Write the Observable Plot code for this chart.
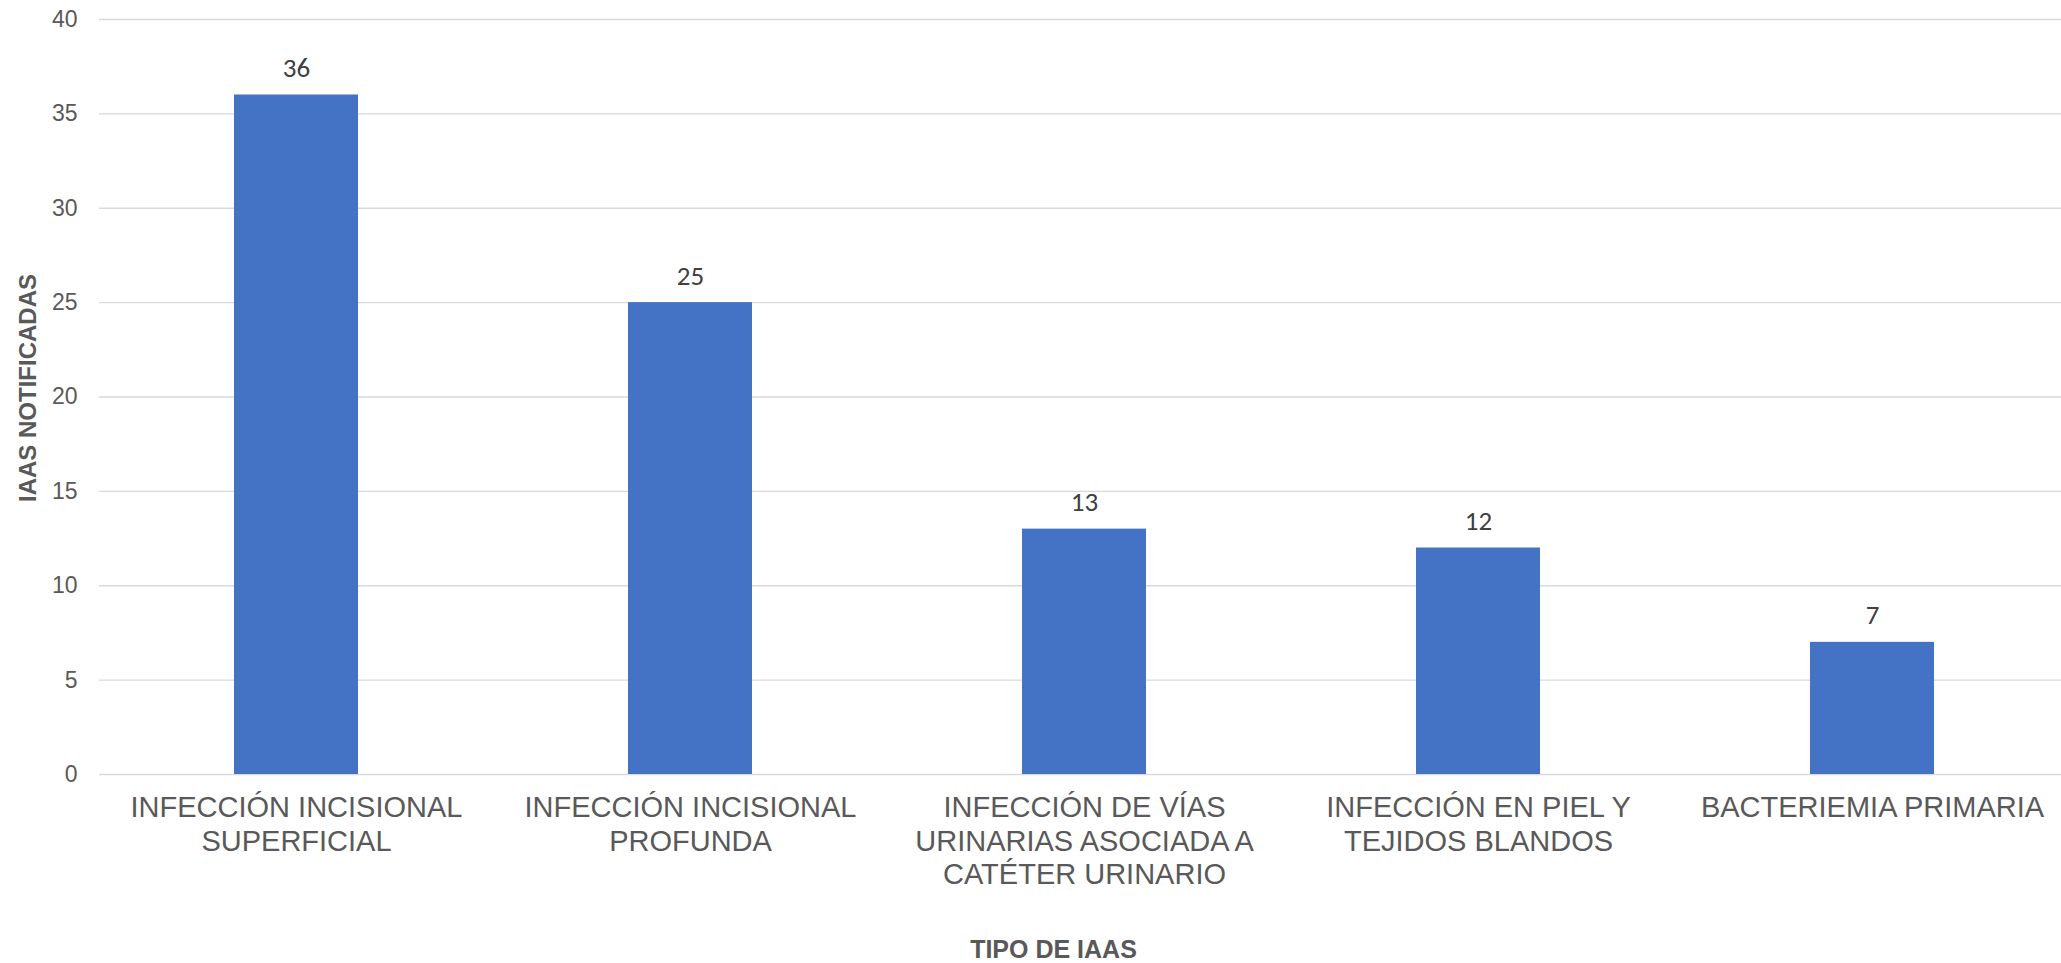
<!DOCTYPE html>
<html>
<head>
<meta charset="utf-8">
<script src="https://cdn.jsdelivr.net/npm/d3@7"></script>
<script src="https://cdn.jsdelivr.net/npm/@observablehq/plot@0.6"></script>
<style>
  html, body { margin: 0; padding: 0; background: #fff; }
  #chart svg { display: block; }
</style>
</head>
<body>
<div id="chart"></div>
<script>
const categories = [
  "INFECCIÓN INCISIONAL\nSUPERFICIAL",
  "INFECCIÓN INCISIONAL\nPROFUNDA",
  "INFECCIÓN DE VÍAS\nURINARIAS ASOCIADA A\nCATÉTER URINARIO",
  "INFECCIÓN EN PIEL Y\nTEJIDOS BLANDOS",
  "BACTERIEMIA PRIMARIA"
];
const values = [36, 25, 13, 12, 7];
const yTicks = [0, 5, 10, 15, 20, 25, 30, 35, 40];
const yTitle = "IAAS NOTIFICADAS";
const xTitle = "TIPO DE IAAS";

const data = categories.map((c, i) => ({cat: c, val: values[i]}));

const chart = Plot.plot({
  width: 2061,
  height: 963,
  marginTop: 19,
  marginBottom: 189,
  marginLeft: 99,
  marginRight: 0,
  style: {fontFamily: "'Liberation Sans', Arial, sans-serif", background: "#fff"},
  x: {domain: categories, range: [99, 2069], paddingInner: 0.685, paddingOuter: 0.3425, align: 0.5},
  y: {domain: [0, 40]},
  marks: [
    Plot.gridY(yTicks, {stroke: "#d9d9d9", strokeOpacity: 1, strokeWidth: 1.4}),
    Plot.barY(data, {x: "cat", y: "val", fill: "#4472C4"}),
    Plot.text(data, {x: "cat", y: "val", text: d => String(d.val), lineAnchor: "bottom", dy: -18,
      fontSize: 27, fill: "#404040", fontFamily: "Carlito, Lato, sans-serif"}),
    Plot.axisY({ticks: yTicks, tickSize: 0, tickPadding: 22, fontSize: 23, color: "#595959", label: null}),
    Plot.axisX({tickSize: 0, tickPadding: 18, fontSize: 29, color: "#595959", label: null, lineHeight: 1.17}),
    Plot.text([yTitle], {frameAnchor: "left", textAnchor: "middle", lineAnchor: "middle", rotate: -90, dx: -71, dy: -9,
      fontSize: 24, fontWeight: "bold", fill: "#595959"}),
    Plot.text([xTitle], {frameAnchor: "bottom", textAnchor: "middle", lineAnchor: "middle", dx: -27, dy: 175,
      fontSize: 25, fontWeight: "bold", fill: "#595959"})
  ]
});
document.getElementById("chart").appendChild(chart);
</script>
</body>
</html>
